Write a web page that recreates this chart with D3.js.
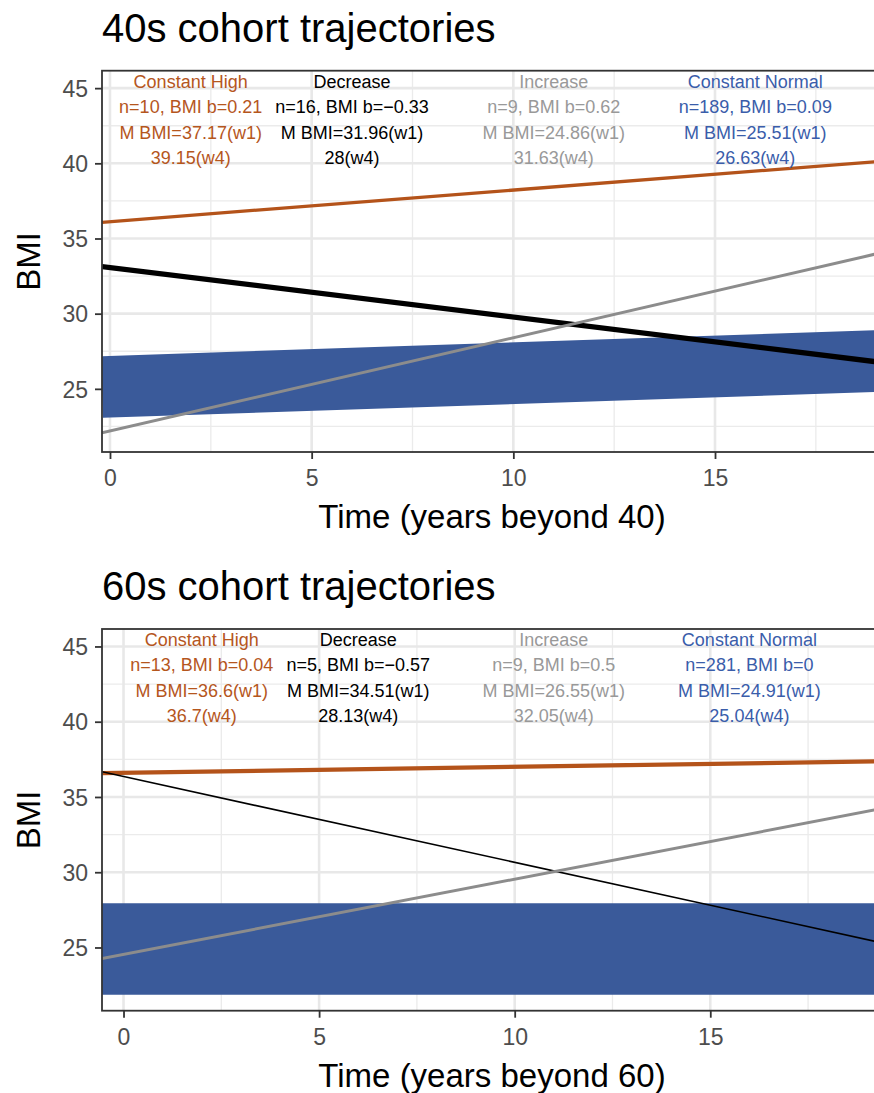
<!DOCTYPE html>
<html>
<head>
<meta charset="utf-8">
<script src="https://cdn.jsdelivr.net/npm/d3@7"></script>
<style>
  body { margin: 0; background: #fff; }
  svg { display: block; font-family: "Liberation Sans", Arial, sans-serif; }
</style>
</head>
<body>
<div id="chart"></div>
<script>
// Trajectory groups (same order in every array)
const groups = ["Constant High", "Decrease", "Increase", "Constant Normal"];
const labelX = [2, 6, 11, 16];           // label columns, in years
const labelY = [45.45, 43.8, 42.05, 40.4]; // label rows, in BMI units
const xTicks = [0, 5, 10, 15];
const xMinor = [2.5, 7.5, 12.5, 17.5];
const yTicks = [25, 30, 35, 40, 45];
const yMinor = [22.5, 27.5, 32.5, 37.5, 42.5];

// 40s cohort
const n40 = [10, 16, 9, 189];
const b40 = [0.21, -0.33, 0.62, 0.09];
const w1_40 = [37.17, 31.96, 24.86, 25.51];
const w4_40 = [39.15, 28, 31.63, 26.63];
const int40 = [36.12, 33.07, 22.2, 25.14];   // line intercept at time 0

// 60s cohort
const n60 = [13, 5, 9, 281];
const b60 = [0.04, -0.57, 0.5, 0];
const w1_60 = [36.6, 34.51, 26.55, 24.91];
const w4_60 = [36.7, 28.13, 32.05, 25.04];
const int60 = [36.6, 36.36, 24.54, 24.9];

const lineColors = ["#b4531a", "#000000", "#8c8c8c", "#3a5a9a"];
const textColors = ["#b5561d", "#000000", "#999999", "#3a5daa"];

const W = 874, H = 1093;
const svg = d3.select("#chart").append("svg")
  .attr("width", W)
  .attr("height", H);
svg.append("rect").attr("width", W).attr("height", H).attr("fill", "#fff");

// line width mapped to group size
const widthScale = d3.scaleLinear().domain([0, 281]).range([0, 91.7]);

const fmt = v => String(v).replace("-", "\u2212");

function drawPanel(cfg) {
  const g = svg.append("g");
  const x = d3.scaleLinear().domain(cfg.xDomain).range([cfg.left, cfg.right]);
  const y = d3.scaleLinear().domain([20.8, 46.16]).range([cfg.bottom, cfg.top]);

  const clipId = "clip-" + cfg.id;
  g.append("clipPath").attr("id", clipId)
    .append("rect")
    .attr("x", cfg.left).attr("y", cfg.top)
    .attr("width", cfg.right - cfg.left).attr("height", cfg.bottom - cfg.top);

  // grid
  const grid = g.append("g");
  grid.selectAll(".xminor").data(xMinor).enter().append("line")
    .attr("x1", d => x(d)).attr("x2", d => x(d))
    .attr("y1", cfg.top).attr("y2", cfg.bottom)
    .attr("stroke", "#ebebeb").attr("stroke-width", 1.3);
  grid.selectAll(".yminor").data(yMinor).enter().append("line")
    .attr("x1", cfg.left).attr("x2", cfg.right)
    .attr("y1", d => y(d)).attr("y2", d => y(d))
    .attr("stroke", "#ebebeb").attr("stroke-width", 1.3);
  grid.selectAll(".xmajor").data(xTicks).enter().append("line")
    .attr("x1", d => x(d)).attr("x2", d => x(d))
    .attr("y1", cfg.top).attr("y2", cfg.bottom)
    .attr("stroke", "#e8e8e8").attr("stroke-width", 2.6);
  grid.selectAll(".ymajor").data(yTicks).enter().append("line")
    .attr("x1", cfg.left).attr("x2", cfg.right)
    .attr("y1", d => y(d)).attr("y2", d => y(d))
    .attr("stroke", "#e8e8e8").attr("stroke-width", 2.6);

  // trajectory lines (Constant Normal first, underneath)
  const rows = groups.map((name, i) => ({
    name, i, n: cfg.n[i], b: cfg.b[i], a: cfg.intercept[i]
  }));
  const drawOrder = [3, 0, 1, 2].map(i => rows[i]);
  const line = d3.line();
  g.append("g").attr("clip-path", `url(#${clipId})`)
    .selectAll("path").data(drawOrder).enter().append("path")
    .attr("d", d => line(x.domain().map(t => [x(t), y(d.a + d.b * t)])))
    .attr("fill", "none")
    .attr("stroke", d => lineColors[d.i])
    .attr("stroke-width", d => widthScale(d.n));

  // group annotations
  rows.forEach((d, i) => {
    const lines = [
      d.name,
      `n=${d.n}, BMI b=${fmt(d.b)}`,
      `M BMI=${cfg.w1[i]}(w1)`,
      `${cfg.w4[i]}(w4)`
    ];
    g.append("g").selectAll("text").data(lines).enter().append("text")
      .attr("x", x(labelX[i]))
      .attr("y", (t, k) => y(labelY[k]))
      .attr("dy", "0.36em")
      .attr("text-anchor", "middle")
      .style("font-size", "18px")
      .attr("fill", textColors[i])
      .text(t => t);
  });

  // panel border
  g.append("rect")
    .attr("x", cfg.left).attr("y", cfg.top)
    .attr("width", cfg.right - cfg.left).attr("height", cfg.bottom - cfg.top)
    .attr("fill", "none").attr("stroke", "#333").attr("stroke-width", 1.8);

  // axes
  const yAxis = g.append("g")
    .attr("transform", `translate(${cfg.left},0)`)
    .call(d3.axisLeft(y).tickValues(yTicks).tickSize(7).tickPadding(7));
  const xAxis = g.append("g")
    .attr("transform", `translate(0,${cfg.bottom})`)
    .call(d3.axisBottom(x).tickValues(xTicks).tickSize(7));
  [yAxis, xAxis].forEach(ax => {
    ax.select(".domain").remove();
    ax.selectAll(".tick line").attr("stroke", "#333").attr("stroke-width", 1.8);
    ax.selectAll(".tick text")
      .attr("fill", "#4d4d4d")
      .style("font-size", "23px")
      .style("font-family", "'Liberation Sans', Arial, sans-serif");
  });
  yAxis.selectAll(".tick text").attr("dy", "0.36em");
  xAxis.selectAll(".tick text").attr("y", 34).attr("dy", 0);

  // titles
  g.append("text")
    .attr("x", cfg.left).attr("y", cfg.top - 29)
    .style("font-size", "40px")
    .text(cfg.title);
  g.append("text")
    .attr("x", (cfg.left + cfg.right) / 2).attr("y", cfg.bottom + 76)
    .attr("text-anchor", "middle")
    .style("font-size", "33px")
    .text(cfg.xLabel);
  g.append("text")
    .attr("transform", `translate(40,${(cfg.top + cfg.bottom) / 2}) rotate(-90)`)
    .attr("text-anchor", "middle")
    .style("font-size", "33px")
    .text("BMI");
}

drawPanel({
  id: "p40", title: "40s cohort trajectories", xLabel: "Time (years beyond 40)",
  left: 102, right: 882, top: 70.7, bottom: 452,
  xDomain: [-0.198, 19.14],
  n: n40, b: b40, w1: w1_40, w4: w4_40, intercept: int40
});

drawPanel({
  id: "p60", title: "60s cohort trajectories", xLabel: "Time (years beyond 60)",
  left: 102, right: 882, top: 629, bottom: 1010.7,
  xDomain: [-0.55, 19.39],
  n: n60, b: b60, w1: w1_60, w4: w4_60, intercept: int60
});
</script>
</body>
</html>
